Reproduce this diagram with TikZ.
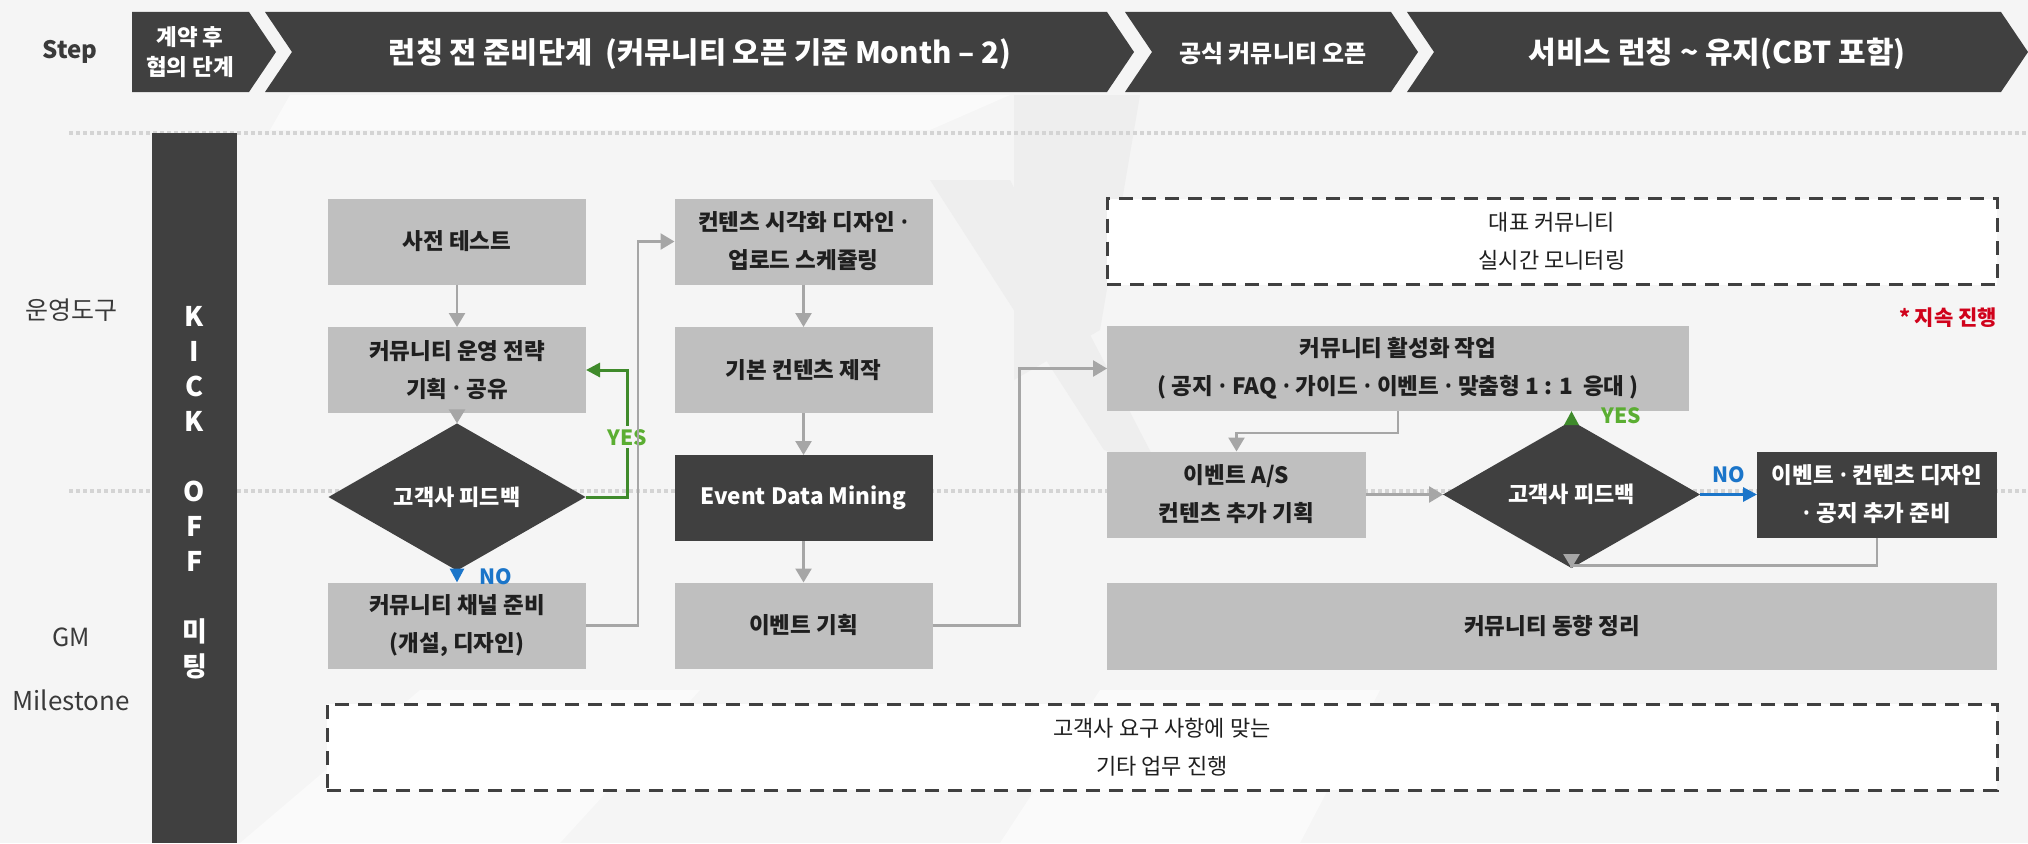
\documentclass[tikz,border=0pt]{standalone}
\usepackage{fontspec}
\setmainfont{Noto Sans CJK KR}
\newfontfamily\dotfont{Noto Sans}
\newcommand\mydot{{\dotfont\raisebox{-0.13em}{\scalebox{1.45}{\symbol{"00B7}}}}}
\usetikzlibrary{arrows.meta,shapes.geometric}
\definecolor{bg}{HTML}{F5F5F5}
\definecolor{bgl}{HTML}{FAFAFA}
\definecolor{bgd}{HTML}{EEEEEE}
\definecolor{dark}{HTML}{404040}
\definecolor{boxg}{HTML}{BFBFBF}
\definecolor{arrg}{HTML}{A6A6A6}
\definecolor{yesline}{HTML}{3F8A2B}
\definecolor{yestxt}{HTML}{5BAE32}
\definecolor{nob}{HTML}{1B75C9}
\definecolor{txt}{HTML}{1F1F1F}
\definecolor{lbltxt}{HTML}{3A3A3A}
\definecolor{dotc}{HTML}{D4D4D4}
\definecolor{redc}{HTML}{D0021B}
\begin{document}
\begin{tikzpicture}[x=1pt,y=-1pt,
  every node/.style={inner sep=0pt, outer sep=0pt},
  box/.style={fill=boxg, minimum width=258pt, minimum height=86pt, align=center, text=txt, font=\bfseries\fontsize{22.5}{38}\selectfont},
  darkbox/.style={box, fill=dark, text=white},
  dbox/.style={draw=dark, line width=3pt, dash pattern=on 14pt off 9pt, fill=white, minimum height=86pt, align=center, text=txt, font=\fontsize{22}{38}\selectfont},
  dia/.style={diamond, fill=dark, minimum width=257pt, minimum height=86pt, text=white, font=\bfseries\fontsize{22}{25}\selectfont},
  chevtext/.style={text=white, font=\bfseries\fontsize{29.5}{34}\selectfont},
  lbl/.style={text=lbltxt, font=\fontsize{25}{30}\selectfont},
  garr/.style={draw=arrg, line width=2.5pt, -{Triangle[length=14pt,width=16pt]}},
  yarr/.style={draw=yesline, line width=3pt, -{Triangle[length=14pt,width=14pt]}},
  narr/.style={draw=nob, line width=3pt, -{Triangle[length=14pt,width=14pt]}},
  guide/.style={draw=dotc, line width=4pt, dash pattern=on 4pt off 3pt},
  yeslbl/.style={text=yestxt, font=\bfseries\fontsize{21}{24}\selectfont},
  nolbl/.style={text=nob, font=\bfseries\fontsize{21}{24}\selectfont},
]
\fill[bg] (0,0) rectangle (2028,843);
\useasboundingbox (0,0) rectangle (2028,843);
% subtle background facets
\fill[bgd] (930,180) -- (1010,180) -- (1160,470) -- (1104,450) -- cycle;
\fill[bgd] (1014,95) -- (1140,95) -- (1100,330) -- (1014,380) -- cycle;
\fill[bgl] (240,843) -- (560,843) -- (700,690) -- (420,690) -- cycle;
\fill[bgl] (1000,843) -- (1300,843) -- (1380,690) -- (1100,690) -- cycle;
\fill[bgl] (290,95) -- (1010,95) -- (930,130) -- (270,130) -- cycle;

% guide lines
\draw[guide] (69,133) -- (2028,133);
\draw[guide] (69,491) -- (2028,491);

% header chevrons
\fill[dark] (132,12) -- (249,12) -- (276,52) -- (249,92) -- (132,92) -- cycle;
\fill[dark] (265,12) -- (1107,12) -- (1134,52) -- (1107,92) -- (265,92) -- (292,52) -- cycle;
\fill[dark] (1125,12) -- (1391,12) -- (1418,52) -- (1391,92) -- (1125,92) -- (1152,52) -- cycle;
\fill[dark] (1407,12) -- (2001,12) -- (2028,52) -- (2001,92) -- (1407,92) -- (1434,52) -- cycle;
\node[chevtext, font=\bfseries\fontsize{22.5}{30}\selectfont, align=center] (h1) at (190,52) {계약 후\\협의 단계};
\node[chevtext] (h2) at (700,54) {런칭 전 준비단계\ \ (커뮤니티 오픈 기준 Month – 2)};
\node[chevtext, font=\bfseries\fontsize{24}{28}\selectfont] (h3) at (1273,54) {공식 커뮤니티 오픈};
\node[chevtext, font=\bfseries\fontsize{30}{34}\selectfont] (h4) at (1717,54) {서비스 런칭 \textasciitilde{} 유지(CBT 포함)};

% left labels
\node[lbl, font=\bfseries\fontsize{24}{28}\selectfont] (step) at (70,52) {Step};
\node[lbl] (ops) at (71,310) {운영도구};
\node[lbl] (gm) at (71,637) {GM};
\node[lbl, font=\fontsize{26}{30}\selectfont] (ms) at (71,700) {Milestone};

% kick off bar
\fill[dark] (152,133) rectangle (237,843);
\node[text=white, font=\bfseries\fontsize{27}{35}\selectfont, align=center] (kick) at (194.5,493) {K\\I\\C\\K\\\mbox{}\\O\\F\\F\\\mbox{}\\미\\팅};

% left column
\node[box] (test) at (457,241.5) {사전 테스트};
\node[box] (strat) at (457,370) {커뮤니티 운영 전략\\기획 \mydot{} 공유};
\node[dia] (fb1) at (457,497) {고객사 피드백};
\node[box] (chan) at (457,625.5) {커뮤니티 채널 준비\\(개설, 디자인)};

% middle column
\node[box] (vis) at (803.5,241.5) {컨텐츠 시각화 디자인 \mydot\\업로드 스케쥴링};
\node[box] (basic) at (803.5,370) {기본 컨텐츠 제작};
\node[darkbox] (edm) at (803.5,498) {Event Data Mining};
\node[box] (evt) at (803.5,625.5) {이벤트 기획};

% right area
\node[dbox, minimum width=890pt] (mon) at (1552,241.5) {대표 커뮤니티\\실시간 모니터링};
\node[anchor=east, text=redc, font=\bfseries\fontsize{21}{24}\selectfont] (note) at (1997,318) {* 지속 진행};
\node[box, minimum width=582pt, minimum height=85pt] (act) at (1398,368.5) {커뮤니티 활성화 작업\\( 공지 \mydot{} FAQ \mydot{} 가이드 \mydot{} 이벤트 \mydot{} 맞춤형 1 : 1\ \ 응대 )};
\node[box, minimum width=259pt] (as) at (1236.5,494.5) {이벤트 A/S\\컨텐츠 추가 기획};
\node[dia] (fb2) at (1571.5,494.5) {고객사 피드백};
\node[darkbox, minimum width=240pt] (prep) at (1877,494.5) {이벤트 \mydot{} 컨텐츠 디자인\\\mydot{} 공지 추가 준비};
\node[box, minimum width=890pt, minimum height=87pt] (trend) at (1552,626.5) {커뮤니티 동향 정리};
\node[dbox, minimum width=1670pt] (etc) at (1162,747) {고객사 요구 사항에 맞는\\기타 업무 진행};

% connectors
\draw[garr] (test) -- (strat);
\draw[garr] (strat) -- (fb1);
\draw[yarr] (fb1.east) -- ++(42,0) |- (strat.east) node[pos=0.235, yeslbl, fill=bg, inner sep=3pt] (yes1) {YES};
\draw[narr] (fb1) -- (chan) node[midway, right=22pt, nolbl] (no1) {NO};
\draw[garr] (chan.east) -- ++(52,0) |- (vis.west);
\draw[garr] (vis) -- (basic);
\draw[garr] (basic) -- (edm);
\draw[garr] (edm) -- (evt);
\draw[garr] (evt.east) -- ++(87,0) |- (act.west);
\draw[garr] (act.south) -- ++(0,22) -| (as.north);
\draw[garr] (as.east) -- (fb2.west);
\draw[yarr] (fb2.north) -- (fb2.north |- act.south) node[midway, right=30pt, yeslbl] (yes2) {YES};
\draw[narr] (fb2.east) -- (prep.west) node[midway, above=12pt, nolbl] (no2) {NO};
\draw[garr] (prep.south) -- ++(0,28) -| (fb2.south);
\end{tikzpicture}
\end{document}
